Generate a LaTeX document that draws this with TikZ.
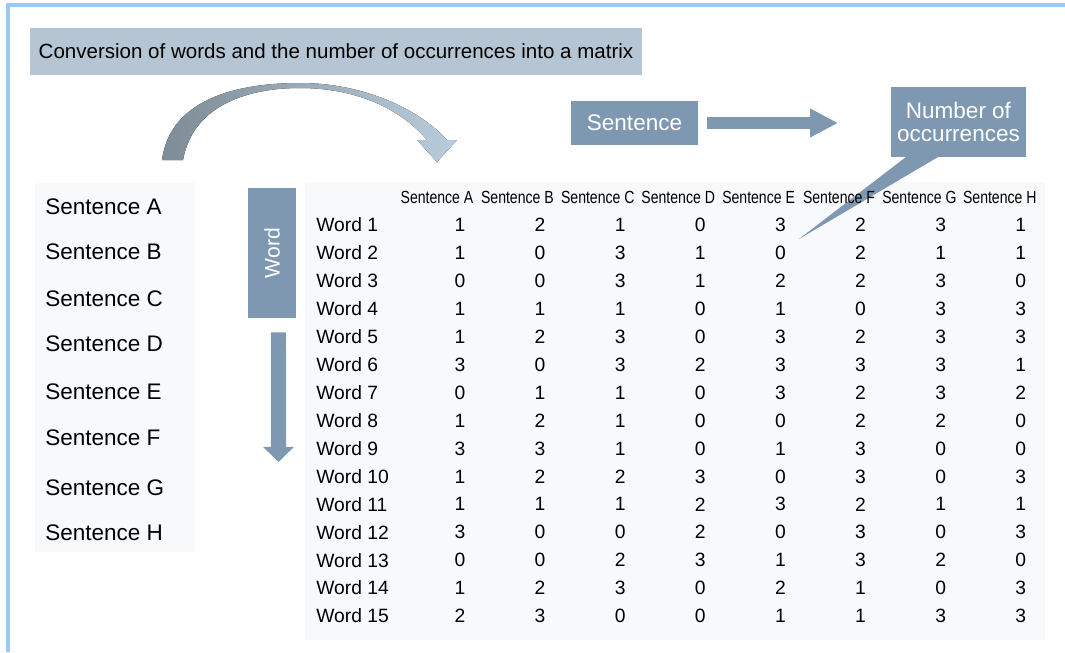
\documentclass[tikz,border=0pt]{standalone}
\usepackage{fontspec}
\setmainfont{Liberation Sans}
\usetikzlibrary{arrows.meta}

\definecolor{boxblue}{RGB}{127,152,177}
\definecolor{barblue}{RGB}{182,197,211}
\definecolor{frameblue}{RGB}{157,202,245}
\definecolor{panelgray}{RGB}{247,249,251}
\definecolor{arcgray}{RGB}{125,140,150}
\definecolor{arcblue}{RGB}{186,204,221}
\newcommand{\unitpx}{0.025cm}

\begin{document}
\begin{tikzpicture}[x=0.025cm, y=-0.025cm,
        plate/.style={fill=boxblue, text=white, inner sep=0pt,
        font=\fontsize{16}{17}\selectfont},
        listitem/.style={anchor=west, inner sep=0pt, font=\fontsize{16}{19}\selectfont},
        rowlabel/.style={anchor=west, inner sep=0pt, font=\fontsize{13.7}{16}\selectfont},
        cell/.style={inner sep=0pt, font=\fontsize{13.7}{16}\selectfont},
        colhead/.style={inner sep=0pt, font=\fontsize{12.5}{14}\selectfont},
        fatarrow/.style={draw=boxblue}
        ]
    \useasboundingbox (0,0) rectangle (1065,652);
    \draw [frameblue, line width=2.2pt] (1065,5) -- (8,5) -- (8,652);

    % light panels behind the lists
    \fill [panelgray] (35,183) rectangle (195,552);
    \fill [panelgray] (305,182) rectangle (1045,640);

    \node [fill=barblue, inner sep=0pt, minimum width={612*\unitpx},
        minimum height={47*\unitpx}, font=\fontsize{14.6}{17}\selectfont]
        (title) at (336,51.5) {Conversion of words and the number of occurrences into a matrix};

    % curved arrow
    \fill [left color=arcgray, right color=arcblue] (162,160)
        .. controls (170,100) and (235,83) .. (300,83)
        .. controls (365,83) and (420,110) .. (447,140)
        -- (457,140) -- (437,162) -- (417,140) -- (427,140)
        .. controls (400,108) and (355,88) .. (300,88)
        .. controls (240,88) and (192,110) .. (183,160) -- cycle;

    \node [plate, minimum width={127*\unitpx}, minimum height={44*\unitpx}]
        (sentence) at (634.5,123) {Sentence};
    \coordinate (sentend) at (838,123);
    \draw [fatarrow, line width=9.2pt, -{Triangle[length=19.9pt, width=19.2pt]}]
        ([xshift=6.4pt]sentence.east) -- (sentend);

    \coordinate (tip) at (799,239);
    \fill [boxblue] (915,150) -- (tip) -- (950,150) -- cycle;
    \node [plate, align=center, minimum width={135*\unitpx}, minimum height={70*\unitpx}]
        (count) at (958.5,122) {Number of\\occurrences};

    \node [plate, minimum width={48*\unitpx}, minimum height={130*\unitpx},
        font=\fontsize{15}{17}\selectfont] (word) at (272,253) {\rotatebox{90}{Word}};
    \coordinate (wordend) at (278.5,462);
    \draw [fatarrow, line width=10.7pt, -{Triangle[length=10.7pt, width=21.3pt]}]
        ([xshift=4.6pt, yshift=-10pt]word.south) -- (wordend);

    \foreach \s/\y in {A/207,B/252,C/299,D/344,E/392,F/438,G/488,H/533}
        \node [listitem] (sent\s) at (45,\y) {Sentence \s};

    \foreach \h [count=\c from 0] in {A,B,C,D,E,F,G,H}
        \node [colhead] (head\h) at ({437+80.4*\c},197) {\scalebox{0.8}[1]{Sentence \h}};

    \foreach \vals [count=\r] in {{1,2,1,0,3,2,3,1},{1,0,3,1,0,2,1,1},{0,0,3,1,2,2,3,0},
            {1,1,1,0,1,0,3,3},{1,2,3,0,3,2,3,3},{3,0,3,2,3,3,3,1},{0,1,1,0,3,2,3,2},
            {1,2,1,0,0,2,2,0},{3,3,1,0,1,3,0,0},{1,2,2,3,0,3,0,3},{1,1,1,2,3,2,1,1},
            {3,0,0,2,0,3,0,3},{0,0,2,3,1,3,2,0},{1,2,3,0,2,1,0,3},{2,3,0,0,1,1,3,3}} {
        \node [rowlabel] (word\r) at (316,{225+27.93*(\r-1)}) {Word \r};
        \foreach \v [count=\c from 0] in \vals
            \node [cell] (cell\r-\c) at ({460+80.1*\c},{225+27.93*(\r-1)}) {\v};
    }
\end{tikzpicture}
\end{document}
